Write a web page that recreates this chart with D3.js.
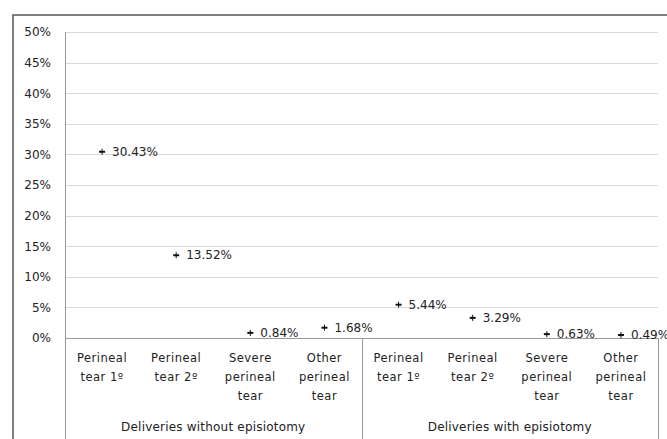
<!DOCTYPE html>
<html><head><meta charset="utf-8">
<script src="https://cdn.jsdelivr.net/npm/d3@7"></script>
<style>
html,body{margin:0;padding:0;background:#fff;}
svg{display:block;font-family:"DejaVu Sans",sans-serif;}
</style></head>
<body>
<svg id="chart" width="667" height="439"></svg>
<script>
const categories = [
  ["Perineal","tear 1º"],
  ["Perineal","tear 2º"],
  ["Severe","perineal","tear"],
  ["Other","perineal","tear"],
  ["Perineal","tear 1º"],
  ["Perineal","tear 2º"],
  ["Severe","perineal","tear"],
  ["Other","perineal","tear"]
];
const groups = ["Deliveries without episiotomy","Deliveries with episiotomy"];
const groupOf = [0,0,0,0,1,1,1,1];
const values = [30.43, 13.52, 0.84, 1.68, 5.44, 3.29, 0.63, 0.49];
const yTicks = [0,5,10,15,20,25,30,35,40,45,50];

(function(){
const svg = d3.select("#chart");
const pl = 65, pr = 658, pt = 32, pb = 338;
const txt = "#222";

// outer frame
svg.append("rect").attr("x",13).attr("y",15).attr("width",700).attr("height",500)
  .attr("fill","none").attr("stroke","#555").attr("stroke-width",1.5);

const x = d3.scaleBand().domain(d3.range(values.length)).range([pl,pr]).padding(0);
const y = d3.scaleLinear().domain([0,50]).range([pb,pt]);

// gridlines
svg.append("g").selectAll("line").data(yTicks.filter(t=>t>0)).join("line")
  .attr("x1",pl).attr("x2",pr)
  .attr("y1",d=>Math.round(y(d))+0.5).attr("y2",d=>Math.round(y(d))+0.5)
  .attr("stroke","#d9d9d9").attr("stroke-width",1);

// y axis labels
const yAxis = d3.axisLeft(y).tickValues(yTicks).tickFormat(d=>d+"%").tickSize(0).tickPadding(14);
const ya = svg.append("g").attr("transform",`translate(${pl},0)`).call(yAxis);
ya.select(".domain").remove();
ya.selectAll("text").attr("font-size","12px").attr("fill",txt).attr("font-family","DejaVu Sans");

// y axis line (extends through category area)
svg.append("line").attr("x1",pl+0.5).attr("x2",pl+0.5).attr("y1",pt).attr("y2",439)
  .attr("stroke","#999").attr("stroke-width",1);
// x axis line
svg.append("line").attr("x1",pl).attr("x2",pr).attr("y1",pb+0.5).attr("y2",pb+0.5)
  .attr("stroke","#999").attr("stroke-width",1);
// group separators
const seps = [x(4), pr];
svg.append("g").selectAll("line").data(seps).join("line")
  .attr("x1",d=>Math.round(d)+0.5).attr("x2",d=>Math.round(d)+0.5)
  .attr("y1",pb).attr("y2",439).attr("stroke","#999").attr("stroke-width",1);

// category labels
const cat = svg.append("g").selectAll("text").data(categories).join("text")
  .attr("x",(d,i)=>x(i)+x.bandwidth()/2).attr("y",362)
  .attr("text-anchor","middle").attr("font-size","11.5px").attr("fill",txt)
  .attr("letter-spacing","0.5px");
cat.selectAll("tspan").data(d=>d).join("tspan")
  .attr("x",function(){return d3.select(this.parentNode).attr("x");})
  .attr("dy",(d,i)=>i===0?0:19).text(d=>d);

// group labels
svg.append("g").selectAll("text").data(groups).join("text")
  .attr("x",(d,gi)=>{const idx=groupOf.map((g,i)=>g===gi?i:-1).filter(i=>i>=0);
      return (x(idx[0]) + x(idx[idx.length-1])+x.bandwidth())/2;})
  .attr("y",431).attr("text-anchor","middle").attr("font-size","12px").attr("fill",txt)
  .attr("letter-spacing","0.2px")
  .text(d=>d);

// markers
const pts = svg.append("g").selectAll("g").data(values).join("g")
  .attr("transform",(d,i)=>`translate(${x(i)+x.bandwidth()/2},${y(d)})`);
pts.append("line").attr("x1",-3).attr("x2",3).attr("y1",0).attr("y2",0)
  .attr("stroke","#111").attr("stroke-width",2);
pts.append("line").attr("x1",0).attr("x2",0).attr("y1",-3).attr("y2",3)
  .attr("stroke","#111").attr("stroke-width",1);
pts.append("text").attr("x",10).attr("y",0).attr("dy","0.35em")
  .attr("font-size","12px").attr("fill",txt).text(d=>d.toFixed(2)+"%");
})();
</script>
</body></html>
